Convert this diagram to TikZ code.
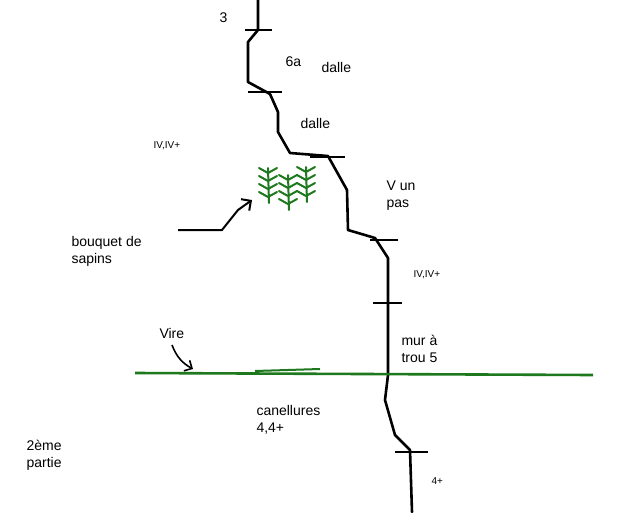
\documentclass[tikz,border=0pt]{standalone}
\usepackage{fontspec}
\setmainfont{Liberation Sans}
\usetikzlibrary{arrows.meta}
\definecolor{vire}{RGB}{30,120,30}
\begin{document}
\begin{tikzpicture}[x=1pt,y=-1pt,
  route/.style={line width=2.6pt,line join=round,line cap=round},
  pitch/.style={line width=2pt},
  lbl/.style={font=\fontsize{14}{17}\selectfont,align=left,anchor=west},
  small/.style={font=\fontsize{10}{12}\selectfont,anchor=west},
  tree/.style={vire,line width=2pt,line cap=round}]
  \useasboundingbox[fill=white] (0,0) rectangle (640,512);
  % the route
  \draw[route] (258,0) -- (258,30) -- (248,42) -- (248,82) -- (270,94) -- (278,112)
    -- (278,132) -- (290,153) -- (328,156) -- (347,190) -- (348,230) -- (375,238)
    -- (388,258) -- (388,375) -- (385,400) -- (395,435) -- (410,450) -- (412,512);
  % belays
  \draw[pitch] (245,30) -- (272,30);
  \draw[pitch] (248,92) -- (282,92);
  \draw[pitch] (310,157) -- (345,157);
  \draw[pitch] (370,240) -- (398,240);
  \draw[pitch] (373,303) -- (402,303);
  \draw[pitch] (395,452) -- (428,452);
  % the ledge
  \draw[vire,line width=2.6pt] (135,373) -- (593,375);
  \draw[vire,line width=2pt] (255,371) -- (320,369);
  \coordinate (vireend) at (193,369);
  \draw[line width=1.6pt,-{Straight Barb[length=6pt]}] (172,345) to[bend right=20] (vireend);
  % trees
  \foreach \x/\y in {268/183, 288/190, 306/182} {
    \draw[tree] (\x,\y-15) -- (\x+1,\y+20);
    \foreach \d in {-10,-2,6,14} {
      \draw[tree] (\x-9,\y+\d-5) -- (\x,\y+\d) -- (\x+9,\y+\d-5);
    }
  }
  \coordinate (treefoot) at (252,200);
  \draw[line width=2pt,-{Straight Barb[length=7pt]}] (178,230) -- (222,230) -- (238,210) -- (treefoot);
  % labels
  \node[lbl] (l3) at (216,18) {3};
  \node[lbl] (l6a) at (282,62) {6a};
  \node[lbl] (ldalle1) at (318,67) {dalle};
  \node[lbl] (ldalle2) at (297,123) {dalle};
  \node[small] (liv1) at (150,146) {IV,IV+};
  \node[lbl] (lv) at (383,196) {V un\\pas};
  \node[small] (liv2) at (410,275) {IV,IV+};
  \node[lbl] (lbouq) at (68,251) {bouquet de\\sapins};
  \node[lbl] (lvire) at (156,333) {Vire};
  \node[lbl] (lmur) at (398,349) {mur à\\trou 5};
  \node[lbl] (lcan) at (253,420) {canellures\\4,4+};
  \node[lbl] (lpart) at (23,455) {2ème\\partie};
  \node[small] (l4) at (428,481) {4+};
\end{tikzpicture}
\end{document}
